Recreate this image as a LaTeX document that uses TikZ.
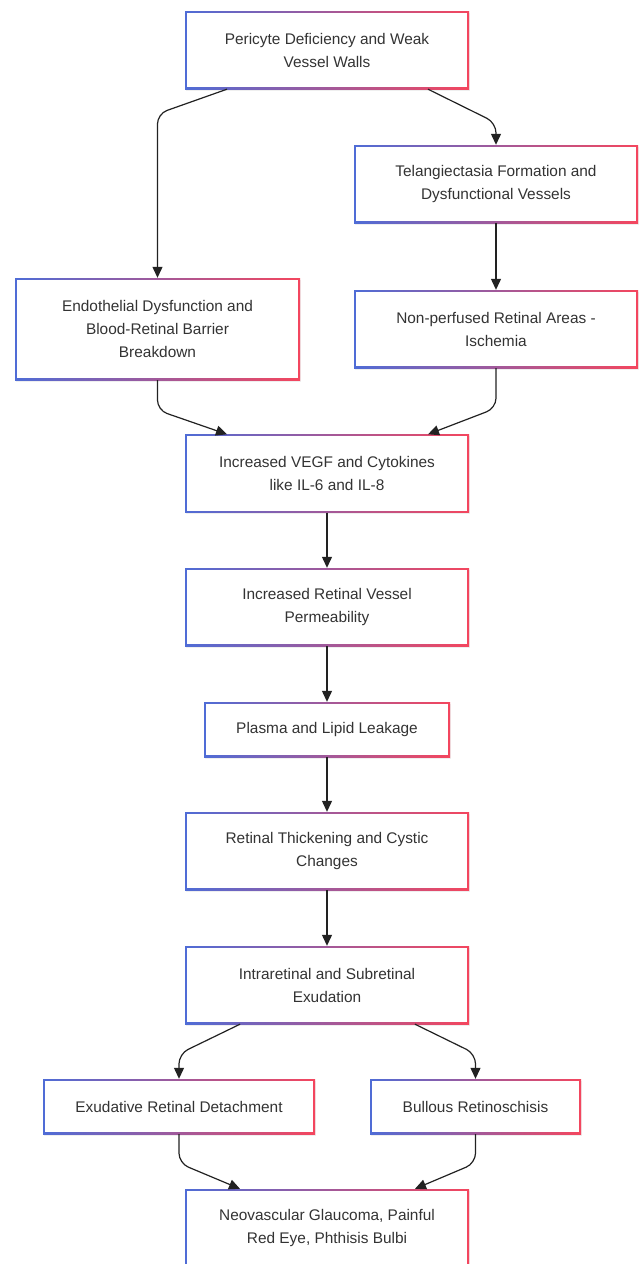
\documentclass[tikz,border=0pt]{standalone}
\usepackage{fontspec}
\setmainfont{Liberation Sans}
\usetikzlibrary{calc,arrows.meta,shadows}
\definecolor{bblue}{HTML}{4F6CD6}
\definecolor{rred}{HTML}{F4465E}
\definecolor{txt}{HTML}{333333}
\definecolor{lnk}{HTML}{222222}
\tikzset{
  box/.style={rectangle, inner sep=0pt, align=center, text=txt,
    minimum width=284, minimum height=78,
    font=\fontsize{15.4}{23}\selectfont,
    drop shadow={opacity=0.12, shadow xshift=1pt, shadow yshift=-1.5pt},
    path picture={
      \shade[left color=bblue, right color=rred]
        (path picture bounding box.south west) rectangle (path picture bounding box.north east);
      \fill[white]
        ([shift={(1.7pt,1.7pt)}]path picture bounding box.south west) rectangle
        ([shift={(-1.7pt,-1.7pt)}]path picture bounding box.north east);
    }},
  arr/.style={draw=lnk, line width=1.2pt, rounded corners=10pt,
    -{Triangle[length=11pt,width=10pt]}}
}
\begin{document}
\begin{tikzpicture}[x=1pt,y=-1pt]
\useasboundingbox[fill=white] (0,0) rectangle (639,1264);
\node[box] (p1) at (327,50) {Pericyte Deficiency and Weak\\Vessel Walls};
\node[box] (p2) at (496,184) {Telangiectasia Formation and\\Dysfunctional Vessels};
\node[box, minimum width=285, minimum height=102] (p3) at (157.5,329) {Endothelial Dysfunction and\\Blood-Retinal Barrier\\Breakdown};
\node[box] (p4) at (496,329) {Non-perfused Retinal Areas -\\Ischemia};
\node[box] (p5) at (327,473.5) {Increased VEGF and Cytokines\\like IL-6 and IL-8};
\node[box] (p6) at (327,607) {Increased Retinal Vessel\\Permeability};
\node[box, minimum width=246, minimum height=55] (p7) at (327,729.5) {Plasma and Lipid Leakage};
\node[box] (p8) at (327,851) {Retinal Thickening and Cystic\\Changes};
\node[box] (p9) at (327,985) {Intraretinal and Subretinal\\Exudation};
\node[box, minimum width=272, minimum height=55] (p10) at (179,1106.5) {Exudative Retinal Detachment};
\node[box, minimum width=211, minimum height=55] (p11) at (475.5,1106.5) {Bullous Retinoschisis};
\node[box] (p12) at (327,1228) {Neovascular Glaucoma, Painful\\Red Eye, Phthisis Bulbi};

\draw[arr] ($(p1.south)+(-100,0)$) -- ($(p3.north)+(0,-164)$) -- (p3.north);
\draw[arr] ($(p1.south)+(101,0)$) -- ($(p2.north)+(0,-22)$) -- (p2.north);
\draw[arr] (p2) -- (p4);
\draw[arr] (p3.south) -- ($(p3.south)+(0,30)$) -- ($(p5.north)+(-100,0)$);
\draw[arr] (p4.south) -- ($(p4.south)+(0,40)$) -- ($(p5.north)+(101,0)$);
\draw[arr] (p5) -- (p6);
\draw[arr] (p6) -- (p7);
\draw[arr] (p7) -- (p8);
\draw[arr] (p8) -- (p9);
\draw[arr] ($(p9.south)+(-87,0)$) -- ($(p10.north)+(0,-25)$) -- (p10.north);
\draw[arr] ($(p9.south)+(88,0)$) -- ($(p11.north)+(0,-25)$) -- (p11.north);
\draw[arr] (p10.south) -- ($(p10.south)+(0,29)$) -- ($(p12.north)+(-87,0)$);
\draw[arr] (p11.south) -- ($(p11.south)+(0,29)$) -- ($(p12.north)+(88,0)$);
\end{tikzpicture}
\end{document}
